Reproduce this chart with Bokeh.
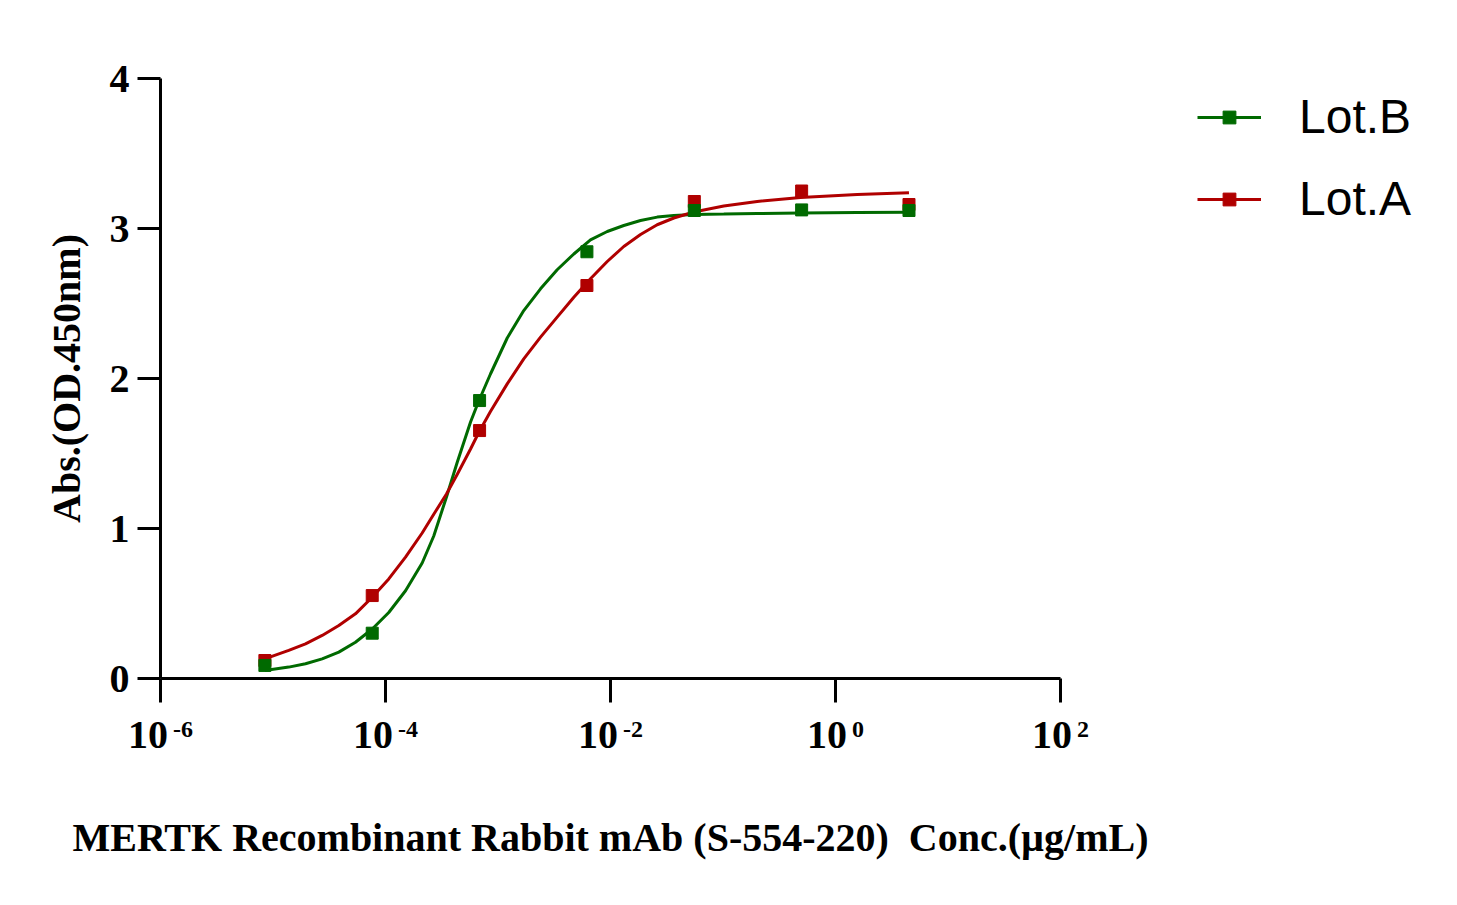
from bokeh.plotting import figure
from bokeh.models import Range1d, FixedTicker, ColumnDataSource, LabelSet, Legend, LegendItem
from bokeh.embed import file_html
from bokeh.resources import INLINE

# ---- data ----
conc = [8.47e-6, 7.62e-5, 6.86e-4, 6.17e-3, 0.0556, 0.5, 4.5]
lot_b = [0.087, 0.302, 1.853, 2.845, 3.12, 3.124, 3.12]
lot_a = [0.12, 0.553, 1.653, 2.62, 3.18, 3.25, 3.16]

# fitted curves at these log10(conc) positions
fit_log_conc = [-5.073, -4.860, -4.711, -4.563, -4.415, -4.267, -4.118, -3.971, -3.822,
                -3.674, -3.571, -3.458, -3.363, -3.244, -3.171, -3.067, -2.918, -2.771,
                -2.622, -2.474, -2.326, -2.178, -2.029, -1.882, -1.733, -1.585, -1.437,
                -1.260, -0.993, -0.696, -0.311, 0.193, 0.653]
fit_lot_b = [0.053, 0.076, 0.098, 0.131, 0.176, 0.242, 0.33, 0.44, 0.585, 0.77, 0.95,
             1.21, 1.44, 1.71, 1.85, 2.03, 2.27, 2.453, 2.598, 2.725, 2.83, 2.924, 2.98,
             3.02, 3.053, 3.076, 3.087, 3.093, 3.096, 3.10, 3.104, 3.107, 3.109]
fit_lot_a = [0.131, 0.187, 0.231, 0.287, 0.353, 0.431, 0.542, 0.664, 0.809, 0.97, 1.095,
             1.23, 1.36, 1.53, 1.64, 1.78, 1.964, 2.131, 2.276, 2.409, 2.542, 2.665, 2.78,
             2.88, 2.96, 3.025, 3.07, 3.11, 3.15, 3.18, 3.207, 3.226, 3.238]

x_tick_values = [1e-6, 1e-4, 1e-2, 1, 1e2]
x_tick_base = ["10", "10", "10", "10", "10"]
x_tick_exponents = ["-6", "-4", "-2", "0", "2"]
y_tick_values = [0, 1, 2, 3, 4]

series_names = ["Lot.B", "Lot.A"]
x_label = "MERTK Recombinant Rabbit mAb (S-554-220)\u00a0 Conc.(\u00b5g/mL)"
y_label = "Abs.(OD.450nm)"

GREEN = "#006a00"
RED = "#b00000"
SERIF = "Liberation Serif"

# ---- layout: the frame fills the canvas, axes are pinned inside it ----
W, H = 1449, 897
AX_LEFT, AX_BOTTOM = 160, 678     # pixel position of the axes' origin
PX_PER_DECADE, PX_PER_UNIT = 112.5, 150.0
X0, Y0 = x_tick_values[0], y_tick_values[0]
x_start = X0 / 10 ** (AX_LEFT / PX_PER_DECADE)
x_end = X0 * 10 ** ((W - AX_LEFT) / PX_PER_DECADE)
y_start = Y0 - (H - AX_BOTTOM) / PX_PER_UNIT
y_end = Y0 + AX_BOTTOM / PX_PER_UNIT

fit_conc = [10 ** v for v in fit_log_conc]

p = figure(width=W, height=H, x_axis_type="log", title=None,
           x_range=Range1d(x_start, x_end), y_range=Range1d(y_start, y_end),
           output_backend="svg", toolbar_location=None, min_border=0)
p.outline_line_color = None
p.grid.visible = False
p.background_fill_color = "white"
p.border_fill_color = "white"

# curves and points
lb = p.line(fit_conc, fit_lot_b, line_color=GREEN, line_width=3)
la = p.line(fit_conc, fit_lot_a, line_color=RED, line_width=3)
sa = p.scatter(conc, lot_a, marker="square", size=12, fill_color=RED, line_color=RED)
sb = p.scatter(conc, lot_b, marker="square", size=12, fill_color=GREEN, line_color=GREEN)

# axes
for ax in (p.xaxis[0], p.yaxis[0]):
    ax.axis_line_width = 3
    ax.axis_line_color = "black"
    ax.major_tick_line_width = 3
    ax.major_tick_line_color = "black"
    ax.major_tick_in = 0
    ax.minor_tick_line_color = None
    ax.axis_label_text_font = SERIF
    ax.axis_label_text_font_style = "bold"
    ax.axis_label_text_font_size = "40px"
    ax.axis_label_text_color = "black"

p.yaxis.fixed_location = x_tick_values[0]
p.yaxis.bounds = (y_tick_values[0], y_tick_values[-1])
p.yaxis.ticker = FixedTicker(ticks=y_tick_values, minor_ticks=[])
p.yaxis.major_tick_out = 23
p.yaxis.major_label_text_font = SERIF
p.yaxis.major_label_text_font_style = "bold"
p.yaxis.major_label_text_font_size = "40px"
p.yaxis.major_label_text_color = "black"
p.yaxis.major_label_standoff = 8
p.yaxis.axis_label = y_label
p.yaxis.axis_label_standoff = 18

p.xaxis.fixed_location = y_tick_values[0]
p.xaxis.bounds = (x_tick_values[0], x_tick_values[-1])
p.xaxis.ticker = FixedTicker(ticks=x_tick_values, minor_ticks=[])
p.xaxis.major_tick_out = 24
p.xaxis.major_label_overrides = {v: " " for v in x_tick_values}
p.xaxis.major_label_text_font_size = "1px"
p.xaxis.major_label_standoff = 0
p.xaxis.axis_label = x_label
p.xaxis.axis_label_standoff = 108

# x tick labels: "10" with a superscript exponent
EXP_SIZE = 24
def exp_width(s):
    return EXP_SIZE * (0.333 * s.count("-") + 0.5 * sum(c.isdigit() for c in s))

base_dx, exp_dx = [], []
for e in x_tick_exponents:
    total = 45 + exp_width(e)
    base_dx.append(-total / 2 + 40)
    exp_dx.append(-total / 2 + 45)

tick_src = ColumnDataSource(dict(x=x_tick_values, y=[Y0] * len(x_tick_values),
                                 base=x_tick_base, exp=x_tick_exponents,
                                 bdx=base_dx, edx=exp_dx))
p.add_layout(LabelSet(x="x", y="y", text="base", source=tick_src, x_offset="bdx",
                      y_offset=-69, text_align="right", text_baseline="alphabetic",
                      text_font=SERIF, text_font_style="bold", text_font_size="40px",
                      text_color="black"))
p.add_layout(LabelSet(x="x", y="y", text="exp", source=tick_src, x_offset="edx",
                      y_offset=-58, text_align="left", text_baseline="alphabetic",
                      text_font=SERIF, text_font_style="bold",
                      text_font_size=f"{EXP_SIZE}px", text_color="black"))

# legend
legend = Legend(items=[LegendItem(label=series_names[0], renderers=[lb, sb]),
                       LegendItem(label=series_names[1], renderers=[la, sa])],
                location=(1197, H - 226), orientation="vertical",
                glyph_width=64, glyph_height=32, label_height=53,
                label_standoff=38, spacing=27, padding=0, margin=0,
                border_line_color=None, background_fill_alpha=0,
                label_text_font="Liberation Sans", label_text_font_size="48px",
                label_text_color="black")
p.add_layout(legend, "center")

open("out.html", "w").write(file_html(p, INLINE))
